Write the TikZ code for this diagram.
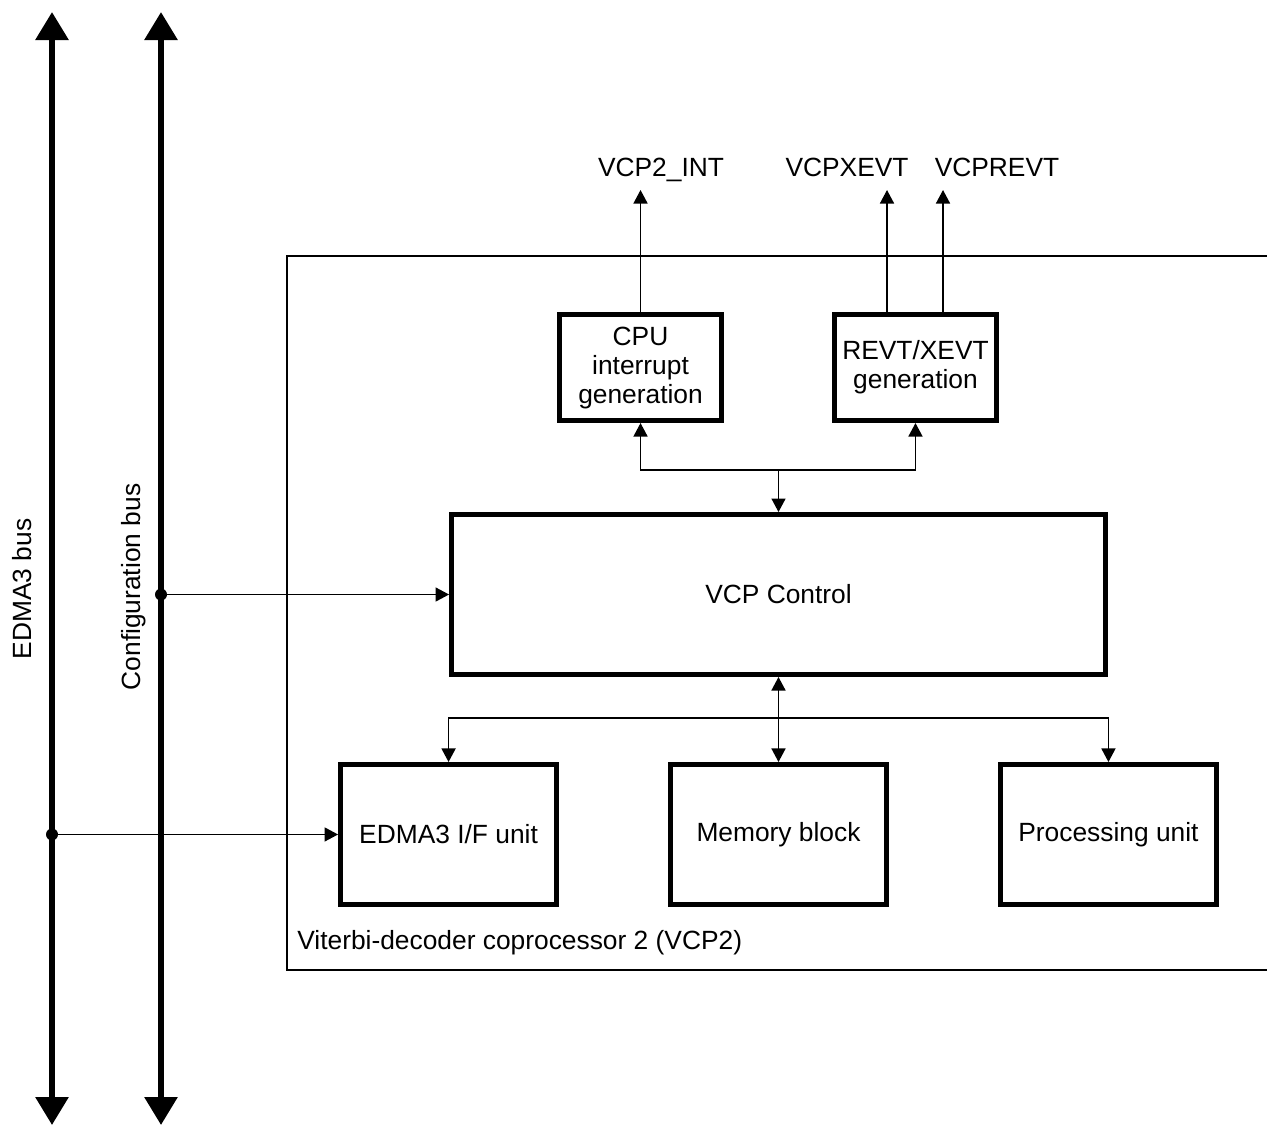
\documentclass[tikz,border=0pt]{standalone}
\usepackage{fontspec}
\setmainfont{Liberation Sans}
\usetikzlibrary{arrows.meta, positioning, calc}

\begin{document}
\begin{tikzpicture}[x=0.02cm, y=-0.02cm, block/.style={rectangle, draw, line width=2.85pt, align=center, inner sep=2pt, font=\fontsize{15}{16.5}\selectfont}, genbox/.style={block, minimum width=3.24cm, minimum height=2.12cm}, unit/.style={block, minimum width=4.32cm, minimum height=2.8cm}, txt/.style={inner sep=0pt, font=\fontsize{15}{16.5}\selectfont}, sig/.style={->, line width=0.85pt}, bus/.style={{Triangle[length=0.56cm, width=0.64cm]}-{Triangle[length=0.56cm, width=0.64cm]}, line width=3.4pt}, >={Triangle[length=0.27cm, width=0.28cm]}, node distance=1.7cm and 2.18cm]
        \useasboundingbox (0,0) rectangle (1267,1127);

        \coordinate (edmatop) at (52,12);
        \coordinate (edmabot) at (52,1125);
        \coordinate (cfgtop) at (161,12);
        \coordinate (cfgbot) at (161,1125);

        % VCP2 frame, open to the right
        \draw[line width=0.85pt] (1267,256) -- (287,256) -- (287,970) -- (1267,970);
        \node[txt, anchor=west] (vcp) at (297,943) {Viterbi-decoder coprocessor 2 (VCP2)};

        \node[block, minimum width=13.08cm, minimum height=3.2cm] (ctrl) at (778.5,594.5) {VCP Control};
        \node[genbox, above=1.78cm of ctrl, xshift=-2.76cm] (cpu) {CPU\\interrupt\\generation};
        \node[genbox, above=1.78cm of ctrl, xshift=2.74cm] (revt) {REVT/XEVT\\generation};
        \node[unit, below=of ctrl] (mem) {Memory block};
        \node[unit, left=of mem] (edma) {EDMA3 I/F unit};
        \node[unit, right=of mem] (proc) {Processing unit};

        \node[txt, anchor=base] (intlbl) at (661,176) {VCP2\_INT};
        \node[txt, anchor=base] (xlbl) at (847,176) {VCPXEVT};
        \node[txt, anchor=base] (rlbl) at (997,176) {VCPREVT};
        \coordinate (xend) at (887,190);
        \coordinate (rend) at (943,190);

        \draw[sig] (cpu.north) -- (cpu.north |- xend);
        \draw[sig] (revt.north -| xend) -- (xend);
        \draw[sig] (revt.north -| rend) -- (rend);

        \coordinate[above=0.84cm of ctrl.north] (topj);
        \draw[sig] (topj) -- (ctrl.north);
        \draw[sig] (topj) -| (cpu.south);
        \draw[sig] (topj) -| (revt.south);

        \coordinate[below=0.82cm of ctrl.south] (botj);
        \draw[sig, <->] (ctrl.south) -- (mem.north);
        \draw[sig] (botj) -| (edma.north);
        \draw[sig] (botj) -| (proc.north);

        % buses
        \draw[bus] (edmatop) -- (edmabot);
        \draw[bus] (cfgtop) -- (cfgbot);
        \node[txt, rotate=90] (edmalbl) at (22,589) {EDMA3 bus};
        \node[txt, rotate=90] (cfglbl) at (134,587) {Configuration bus};

        \coordinate (cfgdot) at (cfgtop |- ctrl.west);
        \coordinate (edmadot) at (edmatop |- edma.west);
        \fill (cfgdot) circle[radius=0.12cm];
        \fill (edmadot) circle[radius=0.12cm];
        \draw[sig] (cfgdot) -- (ctrl.west);
        \draw[sig] (edmadot) -- (edma.west);
    \end{tikzpicture}
\end{document}
